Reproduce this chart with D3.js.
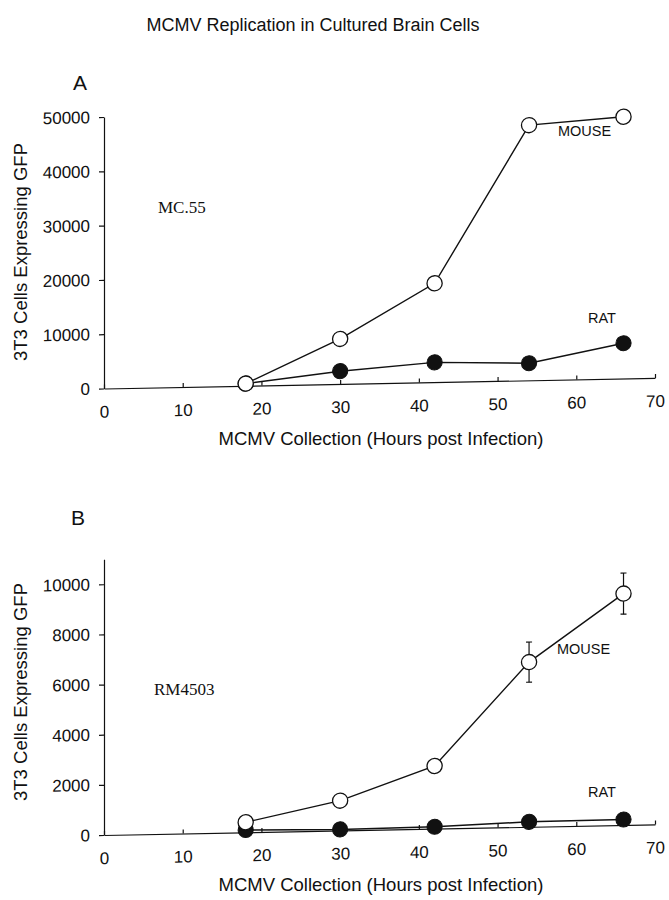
<!DOCTYPE html>
<html>
<head>
<meta charset="utf-8">
<script src="https://cdn.jsdelivr.net/npm/d3@7"></script>
<style>
  html, body { margin: 0; padding: 0; background: #fff; }
  svg { display: block; }
  text { font-family: "Liberation Sans", Arial, Helvetica, sans-serif; fill: #111; }
</style>
</head>
<body>
<svg id="chart" width="669" height="900"></svg>
<script>
// ---- data ----
const hours = [18, 30, 42, 54, 66];
const xTicks = [0, 10, 20, 30, 40, 50, 60, 70];

// Panel A (strain MC.55)
const mouseA = [400, 8300, 18200, 47000, 48200];
const ratA = [400, 2350, 3650, 3150, 6500];
const yTicksA = [0, 10000, 20000, 30000, 40000, 50000];

// Panel B (strain RM4503)
const mouseB = [400, 1190, 2500, 6570, 9230];
const mouseBErr = [0, 0, 0, 800, 820];
const ratB = [90, 40, 75, 200, 220];
const yTicksB = [0, 2000, 4000, 6000, 8000, 10000];

const title = "MCMV Replication in Cultured Brain Cells";
const xTitle = "MCMV Collection (Hours post Infection)";
const yTitle = "3T3 Cells Expressing GFP";

// ---- drawing ----
const svg = d3.select("#chart");
const skew = -1.1; // the scanned figure's x-axis rises slightly to the right

svg.append("text").attr("x", 313).attr("y", 31).attr("text-anchor", "middle")
  .style("font-size", "18px").text(title);

function panel(cfg) {
  const W = 551;
  const x = d3.scaleLinear().domain([0, 70]).range([0, W]);
  const y = d3.scaleLinear().domain([0, cfg.yMax]).range([0, -cfg.H]);

  svg.append("text").attr("x", cfg.letterX).attr("y", cfg.letterY)
    .attr("text-anchor", "middle").style("font-size", "21px").text(cfg.letter);

  const g = svg.append("g")
    .attr("transform", `translate(${cfg.ox},${cfg.oy}) skewY(${skew})`);

  const ya = g.append("g").call(d3.axisLeft(y).tickValues(cfg.yTicks)
    .tickSize(5).tickSizeOuter(0).tickPadding(9).tickFormat(d3.format("d")));
  ya.selectAll("text").style("font-size", "17px").style("font-family", "Liberation Sans, Arial, sans-serif").attr("fill", "#111");
  ya.selectAll("line, path").attr("stroke", "#111").attr("stroke-width", 1.2);

  const xa = g.append("g").call(d3.axisBottom(x).tickValues(xTicks)
    .tickSize(-4).tickSizeOuter(0).tickPadding(17).tickFormat(d3.format("d")));
  xa.selectAll("text").style("font-size", "17px").style("font-family", "Liberation Sans, Arial, sans-serif").attr("fill", "#111");
  xa.selectAll("line, path").attr("stroke", "#111").attr("stroke-width", 1.2);

  const line = d3.line().x((d, i) => x(hours[i])).y(d => y(d));

  // rat (filled) first, mouse (open) on top
  g.append("path").datum(cfg.rat).attr("d", line)
    .attr("fill", "none").attr("stroke", "#111").attr("stroke-width", 1.4);
  g.append("path").datum(cfg.mouse).attr("d", line)
    .attr("fill", "none").attr("stroke", "#111").attr("stroke-width", 1.4);

  if (cfg.err) {
    cfg.err.forEach((e, i) => {
      if (!e) return;
      const cx = x(hours[i]);
      const top = y(cfg.mouse[i] + e), bot = y(cfg.mouse[i] - e);
      g.append("line").attr("x1", cx).attr("x2", cx).attr("y1", top).attr("y2", bot)
        .attr("stroke", "#111").attr("stroke-width", 1.2);
      [top, bot].forEach(yy => g.append("line").attr("x1", cx - 3).attr("x2", cx + 3)
        .attr("y1", yy).attr("y2", yy).attr("stroke", "#111").attr("stroke-width", 1.2));
    });
  }

  g.selectAll(null).data(cfg.rat).join("circle")
    .attr("cx", (d, i) => x(hours[i])).attr("cy", d => y(d)).attr("r", 7.6)
    .attr("fill", "#111").attr("stroke", "#111").attr("stroke-width", 1);
  g.selectAll(null).data(cfg.mouse).join("circle")
    .attr("cx", (d, i) => x(hours[i])).attr("cy", d => y(d)).attr("r", 7.6)
    .attr("fill", "#fff").attr("stroke", "#111").attr("stroke-width", 1.3);

  // axis title (x)
  svg.append("text").attr("x", cfg.xTitle[0]).attr("y", cfg.xTitle[1])
    .attr("text-anchor", "middle").style("font-size", "18.5px").text(xTitle);

  // series / strain labels
  svg.append("text").attr("x", cfg.mouseLab[0]).attr("y", cfg.mouseLab[1])
    .style("font-size", "14.5px").text("MOUSE");
  svg.append("text").attr("x", cfg.ratLab[0]).attr("y", cfg.ratLab[1])
    .style("font-size", "14.5px").text("RAT");
  svg.append("text").attr("x", cfg.strainLab[0]).attr("y", cfg.strainLab[1])
    .style("font-family", "Liberation Serif, 'Times New Roman', serif")
    .style("font-size", "17px").text(cfg.strain);

  // y title
  svg.append("text")
    .attr("transform", `translate(${cfg.yTitleX},${cfg.yTitleY}) rotate(-90)`)
    .attr("text-anchor", "middle").style("font-size", "18.5px").text(yTitle);
}

panel({
  letter: "A", letterX: 80, letterY: 90,
  ox: 104, oy: 388.5, H: 271.5, yMax: 50000, yTicks: yTicksA,
  mouse: mouseA, rat: ratA, err: null,
  xTitle: [381, 445],
  mouseLab: [558, 136], ratLab: [588, 323], strainLab: [158, 213], strain: "MC.55",
  yTitleX: 27, yTitleY: 252
});

panel({
  letter: "B", letterX: 78, letterY: 525,
  ox: 104, oy: 835, H: 275.8, yMax: 11000, yTicks: yTicksB,
  mouse: mouseB, rat: ratB, err: mouseBErr,
  xTitle: [381, 891],
  mouseLab: [557, 654], ratLab: [588, 797], strainLab: [154, 695], strain: "RM4503",
  yTitleX: 27, yTitleY: 692
});
</script>
</body>
</html>
